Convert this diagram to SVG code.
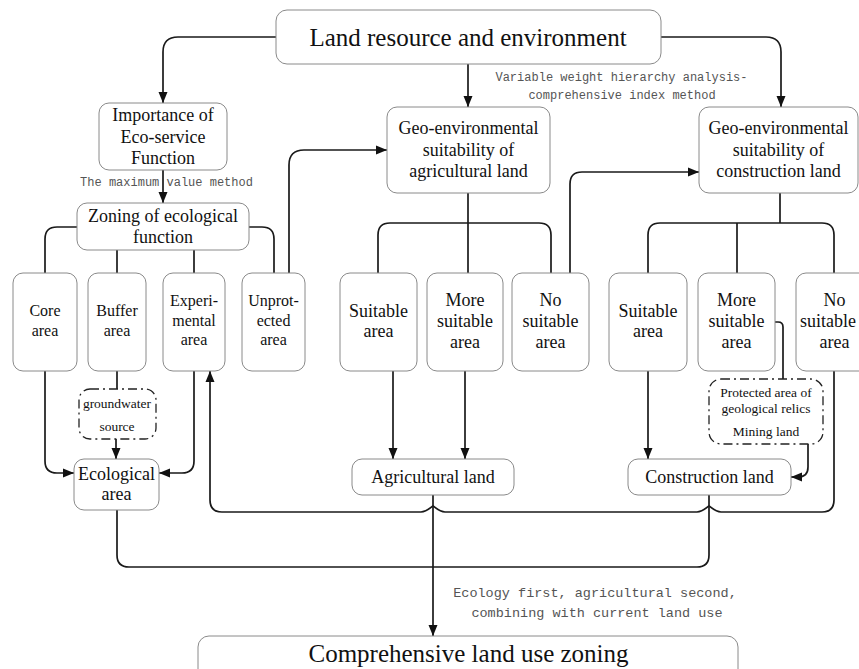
<svg xmlns="http://www.w3.org/2000/svg" width="859" height="669" viewBox="0 0 859 669">
<defs>
<marker id="arr" markerUnits="userSpaceOnUse" markerWidth="12" markerHeight="12" viewBox="0 0 12 12" refX="11" refY="6" orient="auto">
<path d="M0,1.5 L11,6 L0,10.5 Z" fill="#111"/>
</marker>
<style>
.box{fill:#fff;stroke:#8a8a8a;stroke-width:1}
.dbox{fill:#fff;stroke:#222;stroke-width:1.3;stroke-dasharray:9 4 2 4}
.t{font-family:"Liberation Serif","Times New Roman",serif;fill:#111;text-anchor:middle}
.m{font-family:"Liberation Mono","Courier New",monospace;fill:#555;text-anchor:middle}
.c path{fill:none;stroke:#1a1a1a;stroke-width:1.7}
</style>
</defs>
<rect width="859" height="669" fill="#fff"/>

<g class="c" id="connectors">
<path d="M276,37 H178 Q163,37 163,52 V103" marker-end="url(#arr)"/>
<path d="M468,64 V107" marker-end="url(#arr)"/>
<path d="M661,37 H766 Q781,37 781,52 V107" marker-end="url(#arr)"/>
<path d="M163,170 V203" marker-end="url(#arr)"/>
<path d="M77,227 H57 Q45,227 45,239 V273"/>
<path d="M117,250 V273"/>
<path d="M194,250 V273"/>
<path d="M249,227 H262 Q274,227 274,239 V273"/>
<path d="M289,273 V165 Q289,150 304,150 H387" marker-end="url(#arr)"/>
<path d="M45,371 V461 Q45,473 57,473 H74" marker-end="url(#arr)"/>
<path d="M117,371 V389"/>
<path d="M116,439 V459" marker-end="url(#arr)"/>
<path d="M194,371 V461 Q194,473 182,473 H159" marker-end="url(#arr)"/>
<path d="M468,193 V273"/>
<path d="M378,273 V235 Q378,223 390,223 H539 Q551,223 551,235 V273"/>
<path d="M570,273 V184 Q570,172 582,172 H699" marker-end="url(#arr)"/>
<path d="M393,371 V459" marker-end="url(#arr)"/>
<path d="M465,371 V459" marker-end="url(#arr)"/>
<path d="M780,193 V223"/>
<path d="M648,273 V235 Q648,223 660,223 H822 Q834,223 834,235 V273"/>
<path d="M737,223 V273"/>
<path d="M648,371 V459" marker-end="url(#arr)"/>
<path d="M775,322 H778 Q783,322 783,327 V379"/>
<path d="M808,444 V467 Q808,477 798,477 H791" marker-end="url(#arr)"/>
<path d="M834,371 V500 Q834,512 822,512 H721 C715,512 711,507 709,506 C707,507 703,512 697,512 H445 C439,512 435,507 433,506 C431,507 427,512 421,512 H222 Q210,512 210,500 V371" marker-end="url(#arr)"/>
<path d="M433,495 V636" marker-end="url(#arr)"/>
<path d="M117,510 V555 Q117,567 129,567 H697 Q709,567 709,555 V495"/>
</g>

<g id="n-top"><rect class="box" x="276" y="10" width="385" height="54" rx="11"/>
<text class="t" x="468" y="46" font-size="25">Land resource and environment</text></g>

<g id="n-importance"><rect class="box" x="99" y="103" width="128" height="67" rx="10"/>
<text class="t" x="163" y="121" font-size="18">Importance of</text>
<text class="t" x="163" y="143" font-size="18">Eco-service</text>
<text class="t" x="163" y="164" font-size="18">Function</text></g>

<g id="n-zoning"><rect class="box" x="77" y="203" width="172" height="47" rx="10"/>
<text class="t" x="163" y="222" font-size="18">Zoning of ecological</text>
<text class="t" x="163" y="243" font-size="18">function</text></g>

<g id="n-core"><rect class="box" x="13" y="273" width="64" height="98" rx="10"/>
<text class="t" x="45" y="316" font-size="16">Core</text>
<text class="t" x="45" y="336" font-size="16">area</text></g>

<g id="n-buffer"><rect class="box" x="88" y="273" width="58" height="98" rx="10"/>
<text class="t" x="117" y="316" font-size="16">Buffer</text>
<text class="t" x="117" y="336" font-size="16">area</text></g>

<g id="n-experimental"><rect class="box" x="163" y="273" width="62" height="98" rx="10"/>
<text class="t" x="194" y="306" font-size="16">Experi-</text>
<text class="t" x="194" y="326" font-size="16">mental</text>
<text class="t" x="194" y="345" font-size="16">area</text></g>

<g id="n-unprotected"><rect class="box" x="242" y="273" width="63" height="98" rx="10"/>
<text class="t" x="273.5" y="306" font-size="16">Unprot-</text>
<text class="t" x="273.5" y="326" font-size="16">ected</text>
<text class="t" x="273.5" y="345" font-size="16">area</text></g>

<g id="n-groundwater"><rect class="dbox" x="79" y="389" width="77" height="50" rx="11"/>
<text class="t" x="117" y="408" font-size="13.5">groundwater</text>
<text class="t" x="117" y="431" font-size="13.5">source</text></g>

<g id="n-ecological"><rect class="box" x="74" y="459" width="85" height="51" rx="10"/>
<text class="t" x="116.5" y="480" font-size="18">Ecological</text>
<text class="t" x="116.5" y="500" font-size="18">area</text></g>

<g id="n-geo-agri"><rect class="box" x="387" y="107" width="163" height="86" rx="10"/>
<text class="t" x="468.5" y="134" font-size="18">Geo-environmental</text>
<text class="t" x="468.5" y="156" font-size="18">suitability of</text>
<text class="t" x="468.5" y="177" font-size="18">agricultural land</text></g>

<g id="n-agri-suitable"><rect class="box" x="340" y="273" width="77" height="98" rx="10"/>
<text class="t" x="378.5" y="317" font-size="18">Suitable</text>
<text class="t" x="378.5" y="337" font-size="18">area</text></g>

<g id="n-agri-more"><rect class="box" x="427" y="273" width="76" height="98" rx="10"/>
<text class="t" x="465" y="306" font-size="18">More</text>
<text class="t" x="465" y="327" font-size="18">suitable</text>
<text class="t" x="465" y="348" font-size="18">area</text></g>

<g id="n-agri-no"><rect class="box" x="512" y="273" width="77" height="98" rx="10"/>
<text class="t" x="550.5" y="306" font-size="18">No</text>
<text class="t" x="550.5" y="327" font-size="18">suitable</text>
<text class="t" x="550.5" y="348" font-size="18">area</text></g>

<g id="n-geo-constr"><rect class="box" x="699" y="107" width="159" height="86" rx="10"/>
<text class="t" x="778.5" y="134" font-size="18">Geo-environmental</text>
<text class="t" x="778.5" y="156" font-size="18">suitability of</text>
<text class="t" x="778.5" y="177" font-size="18">construction land</text></g>

<g id="n-constr-suitable"><rect class="box" x="609" y="273" width="78" height="98" rx="10"/>
<text class="t" x="648" y="317" font-size="18">Suitable</text>
<text class="t" x="648" y="337" font-size="18">area</text></g>

<g id="n-constr-more"><rect class="box" x="698" y="273" width="77" height="98" rx="10"/>
<text class="t" x="736.5" y="306" font-size="18">More</text>
<text class="t" x="736.5" y="327" font-size="18">suitable</text>
<text class="t" x="736.5" y="348" font-size="18">area</text></g>

<g id="n-constr-no"><rect class="box" x="796" y="273" width="77" height="98" rx="10"/>
<text class="t" x="834.5" y="306" font-size="18">No</text>
<text class="t" x="828" y="327" font-size="18">suitable</text>
<text class="t" x="834.5" y="348" font-size="18">area</text></g>

<g id="n-protected"><rect class="dbox" x="709" y="379" width="114" height="65" rx="12"/>
<text class="t" x="766" y="397" font-size="13.5">Protected area of</text>
<text class="t" x="766" y="413" font-size="13.5">geological relics</text>
<text class="t" x="766" y="436" font-size="13.5">Mining land</text></g>

<g id="n-agri-land"><rect class="box" x="352" y="459" width="162" height="36" rx="10"/>
<text class="t" x="433" y="483" font-size="18">Agricultural land</text></g>

<g id="n-constr-land"><rect class="box" x="628" y="459" width="163" height="36" rx="10"/>
<text class="t" x="709.5" y="483" font-size="18">Construction land</text></g>

<g id="n-comprehensive"><rect class="box" x="198" y="636" width="540" height="50" rx="11"/>
<text class="t" x="468.5" y="662" font-size="25">Comprehensive land use zoning</text></g>

<g id="labels">
<text class="m" x="166.5" y="186" font-size="12">The maximum value method</text>
<text class="m" x="621.5" y="81" font-size="12">Variable weight hierarchy analysis-</text>
<text class="m" x="622" y="99" font-size="12">comprehensive index method</text>
<text class="m" x="595" y="597" font-size="13.5">Ecology first, agricultural second,</text>
<text class="m" x="597" y="617" font-size="13.5">combining with current land use</text>
</g>
</svg>
